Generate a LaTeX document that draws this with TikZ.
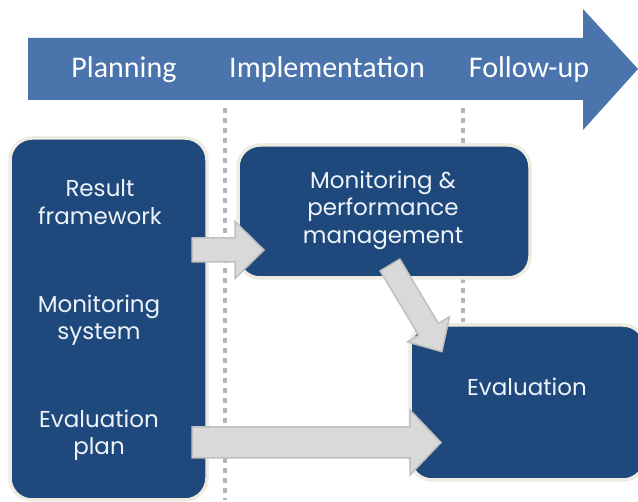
\documentclass[tikz,border=0pt]{standalone}
\usepackage{fontspec}
\setmainfont{Carlito}
\newfontfamily\gothic{Poppins}
\definecolor{boxblue}{HTML}{1F497D}
\definecolor{arrowblue}{HTML}{4A74AB}
\definecolor{cream}{HTML}{EEECE1}
\definecolor{arrowgray}{HTML}{D9D9D9}
\definecolor{arrowedge}{HTML}{BFBFBF}
\definecolor{dotgray}{HTML}{B4B4B4}
\definecolor{boxtext}{HTML}{EEF3FA}
% #1 = start point, #2 = angle, #3 = length, #4 = head length, #5 = half body width, #6 = half head width
\newcommand\blkarrow[6]{%
  \begin{scope}[shift={#1},rotate=#2]
    \draw[blockarrow] (0,-#5) -- ({#3-#4},-#5) -- ({#3-#4},-#6) -- (#3,0)
      -- ({#3-#4},#6) -- ({#3-#4},#5) -- (0,#5) -- cycle;
  \end{scope}}
\begin{document}
\begin{tikzpicture}[x=1pt,y=-1pt,
  box/.style={fill=boxblue, draw=cream, line width=3.5pt, rounded corners=22pt, inner sep=0pt},
  boxlabel/.style={text=boxtext, font=\gothic\fontsize{23}{27.5}\selectfont, align=center, inner sep=0pt},
  phase/.style={text=white, font=\fontsize{30}{32}\selectfont, inner sep=0pt, anchor=base},
  blockarrow/.style={fill=arrowgray, draw=arrowedge, line width=1.5pt, line join=miter},
  divider/.style={draw=dotgray, line width=4pt, dash pattern=on 5pt off 5pt}]

\path[use as bounding box] (0,0) rectangle (638,502);
\clip (0,0) rectangle (638,502);

% timeline arrow
\fill[arrowblue] (28,38) -- (583,38) -- (583,9) -- (638,69) -- (583,130)
  -- (583,100) -- (28,100) -- cycle;
\node[phase] (plan) at (124,78) {Planning};
\node[phase] (impl) at (327,78) {Implementation};
\node[phase] (follow) at (529,78) {Follow-up};

% phase dividers
\draw[divider] (225,108) -- (225,500);
\draw[divider] (463,108) -- (463,322);

% boxes
\node[box, minimum width=197pt, minimum height=362pt] (planbox) at (108.5,319) {};
\node[box, minimum width=292pt, minimum height=133pt] (monbox) at (384,211.5) {};
\node[box, minimum width=235pt, minimum height=155pt] (evalbox) at (527.5,402.5) {};

\node[boxlabel] (rf) at (100,202) {Result\\framework};
\node[boxlabel] (ms) at (99,320) {Monitoring\\system};
\node[boxlabel] (ep) at (99,435) {Evaluation\\plan};
\node[boxlabel] (mp) at (383,210) {Monitoring \&\\performance\\management};
\node[boxlabel] (ev) at (527,387) {Evaluation};

% block arrows
\blkarrow{(192,250)}{0}{72}{29}{12}{28.5}
\blkarrow{(192,442.5)}{0}{249}{31}{15.5}{32.5}
\blkarrow{(390,265)}{-59.1}{101}{26}{11.5}{24.5}
\end{tikzpicture}
\end{document}
